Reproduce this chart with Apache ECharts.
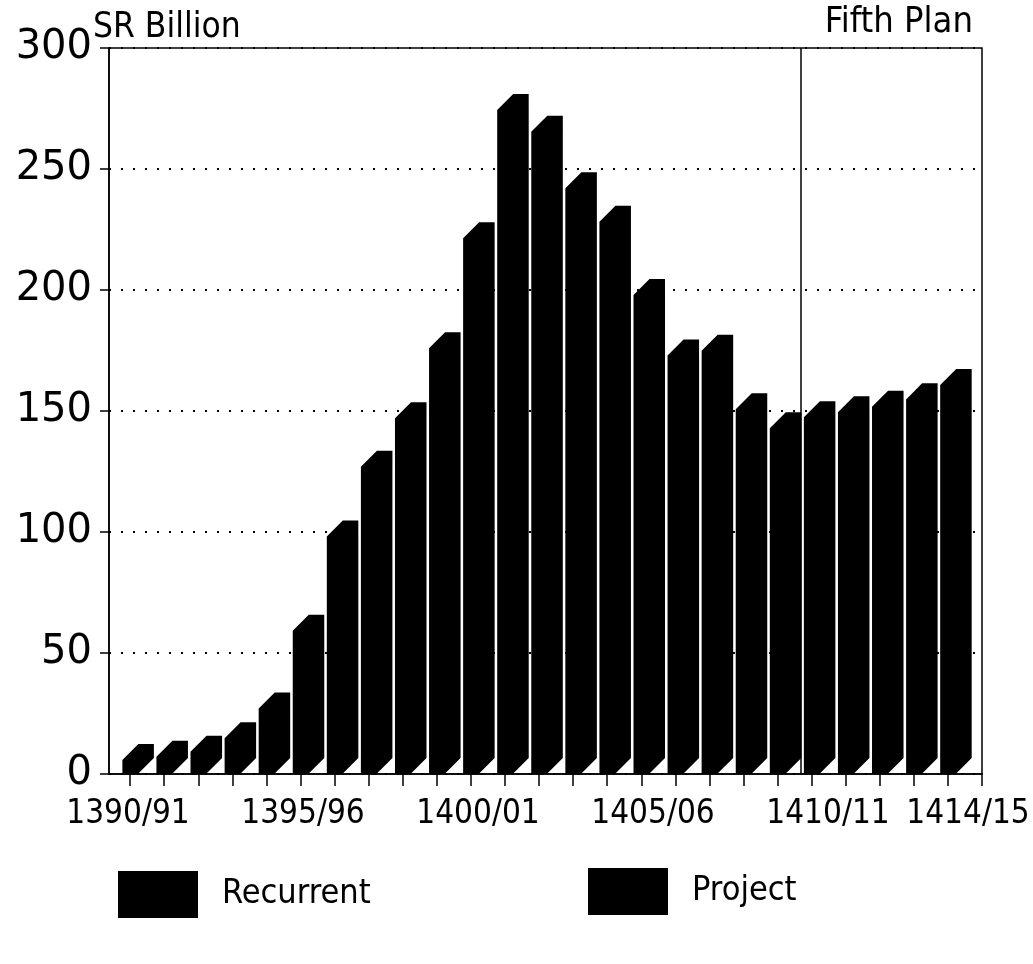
<!DOCTYPE html>
<html>
<head>
<meta charset="utf-8">
<title>Government Expenditure, SR Billion</title>
<script src="https://cdn.jsdelivr.net/npm/echarts@6/dist/echarts.min.js"></script>
<style>
  html, body { margin: 0; padding: 0; background: #fff; }
  #chart { width: 1033px; height: 964px; }
</style>
</head>
<body>
<div id="chart"></div>
<script>
// Fiscal years (Hijri) shown along the horizontal axis
const categories = [
  '1390/91', '1391/92', '1392/93', '1393/94', '1394/95',
  '1395/96', '1396/97', '1397/98', '1398/99', '1399/00',
  '1400/01', '1401/02', '1402/03', '1403/04', '1404/05',
  '1405/06', '1406/07', '1407/08', '1408/09', '1409/10',
  '1410/11', '1411/12', '1412/13', '1413/14', '1414/15'
];

// Total outlay per year (recurrent + project), SR billion
const totalOutlay = [
  5.8, 7.1, 9.2, 14.8, 27.1,
  59.2, 98.1, 127.0, 147.0, 175.9,
  221.4, 274.4, 265.4, 242.0, 228.2,
  197.9, 172.9, 174.9, 150.7, 142.9,
  147.4, 149.5, 151.8, 154.8, 160.7
];

// Years that carry a label under the axis
const labelledYears = ['1390/91', '1395/96', '1400/01', '1405/06', '1410/11', '1414/15'];

// Value-axis range
const yMin = 0;
const yMax = 300;
const yStep = 50;

// Start of the Fifth Plan (drawn in the gap after 1409/10)
const fifthPlanStart = 19.68;

const NARROW = "'DejaVu Sans Condensed', sans-serif";
const WIDE = "'DejaVu Sans', sans-serif";

// Bar geometry, as fractions of one category step
const FRONT = 0.455;
const DEPTH = 0.47;

function renderBar(params, api) {
  const idx = api.value(0);
  const val = api.value(1);
  const base = api.coord([idx, 0]);
  const top = api.coord([idx, val]);
  const step = api.size([1, 0])[0];
  const w = step * FRONT;
  const d = step * DEPTH;
  const x0 = base[0] - w / 2;
  const x1 = base[0] + w / 2;
  return {
    type: 'polygon',
    shape: {
      points: [
        [x0, base[1]],
        [x0, top[1]],
        [x0 + d, top[1] - d],
        [x1 + d, top[1] - d],
        [x1 + d, base[1] - d],
        [x1, base[1]]
      ]
    },
    style: { fill: '#000' }
  };
}

const chart = echarts.init(document.getElementById('chart'), null, { renderer: 'canvas' });

const legendBase = {
  orient: 'horizontal',
  icon: 'rect',
  itemWidth: 80,
  itemHeight: 47,
  selectedMode: false,
  padding: 0,
  textStyle: {
    fontFamily: NARROW,
    fontSize: 34,
    color: '#000',
    padding: [0, 0, 0, 19]
  }
};

const yearIndex = categories.map((c, i) => i);

chart.setOption({
  backgroundColor: '#fff',
  animation: false,
  title: [
    {
      text: 'SR Billion',
      left: 93,
      top: 10,
      padding: 0,
      textStyle: { fontFamily: NARROW, fontSize: 35, fontWeight: 'normal', color: '#000' }
    },
    {
      text: 'Fifth Plan',
      right: 60,
      top: 5,
      padding: 0,
      textStyle: { fontFamily: NARROW, fontSize: 36, fontWeight: 'normal', color: '#000' }
    }
  ],
  legend: [
    Object.assign({}, legendBase, { data: ['Recurrent'], left: 118, top: 871 }),
    Object.assign({}, legendBase, { data: ['Project'], left: 588, top: 868 })
  ],
  grid: {
    left: 109,
    top: 48,
    right: 51,
    bottom: 190,
    show: true,
    borderColor: '#000',
    borderWidth: 1.5,
    backgroundColor: 'transparent',
    outerBoundsMode: 'none'
  },
  xAxis: [
    {
      // bar axis: one step per fiscal year, ticks under each bar
      type: 'value',
      position: 'bottom',
      min: -0.62,
      max: categories.length,
      axisLine: { show: true, onZero: false, lineStyle: { color: '#000', width: 1.5 } },
      axisTick: {
        show: true,
        inside: false,
        length: 12,
        customValues: yearIndex.concat([categories.length]),
        lineStyle: { color: '#000', width: 1.5 }
      },
      axisLabel: { show: false },
      splitLine: { show: false }
    },
    {
      // year captions, set on a slightly wider pitch than the bars
      type: 'value',
      position: 'bottom',
      min: -0.543,
      max: 24.4,
      axisLine: { show: false, onZero: false },
      axisTick: { show: false },
      axisLabel: {
        show: true,
        hideOverlap: false,
        customValues: labelledYears.map(y => categories.indexOf(y)),
        formatter: v => categories[Math.round(v)] || '',
        margin: 24,
        fontFamily: NARROW,
        fontSize: 33,
        color: '#000'
      },
      splitLine: { show: false }
    }
  ],
  yAxis: {
    type: 'value',
    min: yMin,
    max: yMax,
    interval: yStep,
    axisLine: { show: true, onZero: false, lineStyle: { color: '#000', width: 1.5 } },
    axisTick: { show: true, inside: false, length: 9, lineStyle: { color: '#000', width: 1.5 } },
    axisLabel: {
      margin: 17,
      padding: [6, 0, 0, 0],
      fontFamily: WIDE,
      fontSize: 40,
      color: '#000'
    },
    splitLine: {
      show: true,
      lineStyle: { color: '#000', width: 2, type: [2, 10] }
    }
  },
  series: [
    {
      name: 'Recurrent + Project',
      type: 'custom',
      z: 3,
      xAxisIndex: 0,
      renderItem: renderBar,
      itemStyle: { color: '#000' },
      encode: { x: 0, y: 1 },
      data: totalOutlay.map((v, i) => [i, v]),
      markLine: {
        silent: true,
        z: 1,
        symbol: 'none',
        label: { show: false },
        lineStyle: { color: '#000', width: 1.5, type: 'solid' },
        data: [{ xAxis: fifthPlanStart }]
      }
    },
    {
      name: 'Recurrent',
      type: 'custom',
      itemStyle: { color: '#000' },
      renderItem: () => null,
      data: []
    },
    {
      name: 'Project',
      type: 'custom',
      itemStyle: { color: '#000' },
      renderItem: () => null,
      data: []
    }
  ]
});
</script>
</body>
</html>
